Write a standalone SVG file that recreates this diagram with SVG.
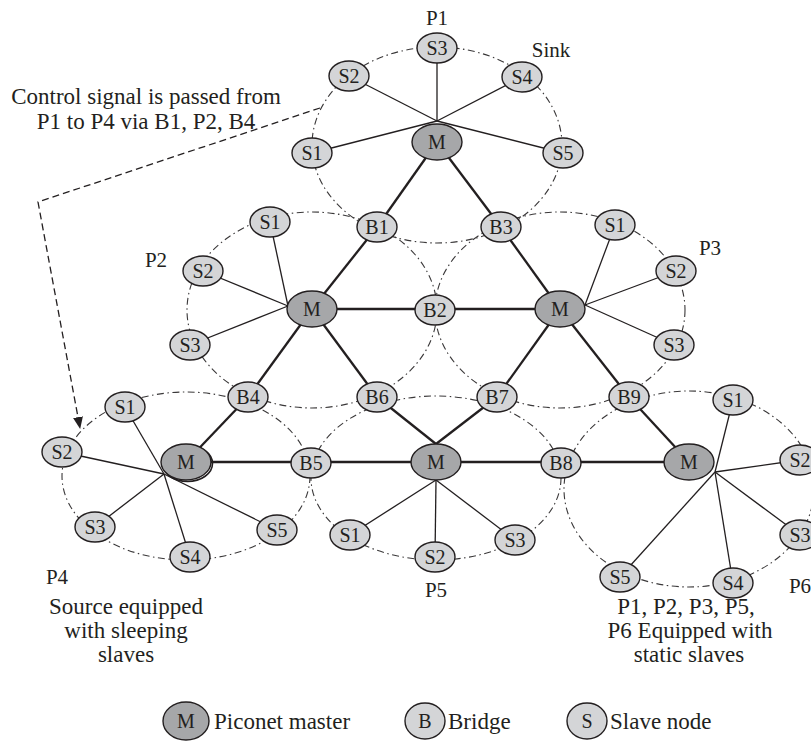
<svg xmlns="http://www.w3.org/2000/svg" width="811" height="748" viewBox="0 0 811 748">
<style>
.loop{fill:none;stroke:#3a3839;stroke-width:1.1;stroke-dasharray:7 3.5 1.5 3.5}
.thick{stroke:#231f20;stroke-width:2.3;fill:none}
.thin{stroke:#231f20;stroke-width:1.3;fill:none}
.sl{fill:#d4d5d7;stroke:#231f20;stroke-width:1.4}
.ms{fill:#a6a7a9;stroke:#231f20;stroke-width:1.4}
.lbl{font-family:"Liberation Serif","Times New Roman",serif;font-size:20px;fill:#231f20;text-anchor:middle}
.txt{font-family:"Liberation Serif","Times New Roman",serif;font-size:23px;fill:#231f20}
.pl{font-family:"Liberation Serif","Times New Roman",serif;font-size:21px;fill:#231f20;text-anchor:middle}
.mid{text-anchor:middle}
.arr{fill:none;stroke:#231f20;stroke-width:1.3;stroke-dasharray:7 4}
</style>
<defs>
<marker id="ah" viewBox="0 0 12 10" refX="11" refY="5" markerWidth="12" markerHeight="10" markerUnits="userSpaceOnUse" orient="auto">
<path d="M0,0 L12,5 L0,10 Z" fill="#231f20"/>
</marker>
</defs>

<g id="loops">
<ellipse class="loop" cx="437" cy="145" rx="125" ry="98"/>
<ellipse class="loop" cx="312" cy="310" rx="125" ry="98"/>
<ellipse class="loop" cx="560" cy="310" rx="125" ry="98"/>
<ellipse class="loop" cx="186" cy="476" rx="124" ry="84"/>
<ellipse class="loop" cx="436" cy="478" rx="125" ry="82"/>
<ellipse class="loop" cx="689" cy="489" rx="125" ry="98"/>
</g>

<g id="connectors">
<line class="thick" x1="437" y1="142" x2="377" y2="227"/>
<line class="thick" x1="437" y1="142" x2="501" y2="227"/>
<line class="thick" x1="377" y1="227" x2="312" y2="309"/>
<line class="thick" x1="501" y1="227" x2="560" y2="309"/>
<line class="thick" x1="312" y1="309" x2="560" y2="309"/>
<line class="thick" x1="312" y1="309" x2="248" y2="397"/>
<line class="thick" x1="312" y1="309" x2="377" y2="397"/>
<line class="thick" x1="560" y1="309" x2="497" y2="397"/>
<line class="thick" x1="560" y1="309" x2="629" y2="397"/>
<line class="thick" x1="248" y1="397" x2="186" y2="462"/>
<line class="thick" x1="377" y1="397" x2="436" y2="444"/>
<line class="thick" x1="497" y1="397" x2="436" y2="444"/>
<line class="thick" x1="629" y1="397" x2="689" y2="462"/>
<line class="thick" x1="186" y1="462" x2="689" y2="462"/>
<line class="thin" x1="437" y1="121" x2="312" y2="153"/>
<line class="thin" x1="437" y1="121" x2="349" y2="76"/>
<line class="thin" x1="437" y1="121" x2="437" y2="48"/>
<line class="thin" x1="437" y1="121" x2="522" y2="77"/>
<line class="thin" x1="437" y1="121" x2="563" y2="153"/>
<line class="thin" x1="288" y1="306" x2="270" y2="222"/>
<line class="thin" x1="288" y1="306" x2="203" y2="271"/>
<line class="thin" x1="288" y1="306" x2="190" y2="345"/>
<line class="thin" x1="585" y1="305" x2="615" y2="225"/>
<line class="thin" x1="585" y1="305" x2="676" y2="271"/>
<line class="thin" x1="585" y1="305" x2="674" y2="345"/>
<line class="thin" x1="164" y1="474" x2="125" y2="407"/>
<line class="thin" x1="164" y1="474" x2="62" y2="452"/>
<line class="thin" x1="164" y1="474" x2="95" y2="527"/>
<line class="thin" x1="164" y1="474" x2="190" y2="557"/>
<line class="thin" x1="164" y1="474" x2="277" y2="530"/>
<line class="thin" x1="436" y1="480" x2="350" y2="535"/>
<line class="thin" x1="436" y1="480" x2="435" y2="557"/>
<line class="thin" x1="436" y1="480" x2="515" y2="540"/>
<line class="thin" x1="715" y1="472" x2="733" y2="400"/>
<line class="thin" x1="715" y1="472" x2="800" y2="460"/>
<line class="thin" x1="715" y1="472" x2="800" y2="535"/>
<line class="thin" x1="715" y1="472" x2="733" y2="583"/>
<line class="thin" x1="715" y1="472" x2="620" y2="577"/>
<polyline class="arr" points="320,108 38,202 80,428" marker-end="url(#ah)"/>
</g>

<g id="p1-m"><ellipse class="ms" cx="437" cy="142" rx="25" ry="18"/><text class="lbl" x="437" y="149">M</text></g>
<g id="p1-s1"><ellipse class="sl" cx="312" cy="153" rx="20" ry="15"/><text class="lbl" x="312" y="160">S1</text></g>
<g id="p1-s2"><ellipse class="sl" cx="349" cy="76" rx="20" ry="15"/><text class="lbl" x="349" y="83">S2</text></g>
<g id="p1-s3"><ellipse class="sl" cx="437" cy="48" rx="20" ry="15"/><text class="lbl" x="437" y="55">S3</text></g>
<g id="p1-s4"><ellipse class="sl" cx="522" cy="77" rx="20" ry="15"/><text class="lbl" x="522" y="84">S4</text></g>
<g id="p1-s5"><ellipse class="sl" cx="563" cy="153" rx="20" ry="15"/><text class="lbl" x="563" y="160">S5</text></g>
<g id="p2-m"><ellipse class="ms" cx="312" cy="309" rx="25" ry="18"/><text class="lbl" x="312" y="316">M</text></g>
<g id="p2-s1"><ellipse class="sl" cx="270" cy="222" rx="20" ry="15"/><text class="lbl" x="270" y="229">S1</text></g>
<g id="p2-s2"><ellipse class="sl" cx="203" cy="271" rx="20" ry="15"/><text class="lbl" x="203" y="278">S2</text></g>
<g id="p2-s3"><ellipse class="sl" cx="190" cy="345" rx="20" ry="15"/><text class="lbl" x="190" y="352">S3</text></g>
<g id="p3-m"><ellipse class="ms" cx="560" cy="309" rx="25" ry="18"/><text class="lbl" x="560" y="316">M</text></g>
<g id="p3-s1"><ellipse class="sl" cx="615" cy="225" rx="20" ry="15"/><text class="lbl" x="615" y="232">S1</text></g>
<g id="p3-s2"><ellipse class="sl" cx="676" cy="271" rx="20" ry="15"/><text class="lbl" x="676" y="278">S2</text></g>
<g id="p3-s3"><ellipse class="sl" cx="674" cy="345" rx="20" ry="15"/><text class="lbl" x="674" y="352">S3</text></g>
<g id="p4-m"><ellipse cx="187.5" cy="463.5" rx="25" ry="18" fill="none" stroke="#231f20" stroke-width="1.6"/><ellipse class="ms" cx="186" cy="462" rx="25" ry="18"/><text class="lbl" x="186" y="469">M</text></g>
<g id="p4-s1"><ellipse class="sl" cx="125" cy="407" rx="20" ry="15"/><text class="lbl" x="125" y="414">S1</text></g>
<g id="p4-s2"><ellipse class="sl" cx="62" cy="452" rx="20" ry="15"/><text class="lbl" x="62" y="459">S2</text></g>
<g id="p4-s3"><ellipse class="sl" cx="95" cy="527" rx="20" ry="15"/><text class="lbl" x="95" y="534">S3</text></g>
<g id="p4-s4"><ellipse class="sl" cx="190" cy="557" rx="20" ry="15"/><text class="lbl" x="190" y="564">S4</text></g>
<g id="p4-s5"><ellipse class="sl" cx="277" cy="530" rx="20" ry="15"/><text class="lbl" x="277" y="537">S5</text></g>
<g id="p5-m"><ellipse class="ms" cx="436" cy="462" rx="25" ry="18"/><text class="lbl" x="436" y="469">M</text></g>
<g id="p5-s1"><ellipse class="sl" cx="350" cy="535" rx="20" ry="15"/><text class="lbl" x="350" y="542">S1</text></g>
<g id="p5-s2"><ellipse class="sl" cx="435" cy="557" rx="20" ry="15"/><text class="lbl" x="435" y="564">S2</text></g>
<g id="p5-s3"><ellipse class="sl" cx="515" cy="540" rx="20" ry="15"/><text class="lbl" x="515" y="547">S3</text></g>
<g id="p6-m"><ellipse class="ms" cx="689" cy="462" rx="25" ry="18"/><text class="lbl" x="689" y="469">M</text></g>
<g id="p6-s1"><ellipse class="sl" cx="733" cy="400" rx="20" ry="15"/><text class="lbl" x="733" y="407">S1</text></g>
<g id="p6-s2"><ellipse class="sl" cx="800" cy="460" rx="20" ry="15"/><text class="lbl" x="800" y="467">S2</text></g>
<g id="p6-s3"><ellipse class="sl" cx="800" cy="535" rx="20" ry="15"/><text class="lbl" x="800" y="542">S3</text></g>
<g id="p6-s4"><ellipse class="sl" cx="733" cy="583" rx="20" ry="15"/><text class="lbl" x="733" y="590">S4</text></g>
<g id="p6-s5"><ellipse class="sl" cx="620" cy="577" rx="20" ry="15"/><text class="lbl" x="620" y="584">S5</text></g>
<g id="b1"><ellipse class="sl" cx="377" cy="227" rx="20" ry="15"/><text class="lbl" x="377" y="234">B1</text></g>
<g id="b2"><ellipse class="sl" cx="435" cy="310" rx="20" ry="15"/><text class="lbl" x="435" y="317">B2</text></g>
<g id="b3"><ellipse class="sl" cx="501" cy="227" rx="20" ry="15"/><text class="lbl" x="501" y="234">B3</text></g>
<g id="b4"><ellipse class="sl" cx="248" cy="397" rx="20" ry="15"/><text class="lbl" x="248" y="404">B4</text></g>
<g id="b5"><ellipse class="sl" cx="311" cy="463" rx="20" ry="15"/><text class="lbl" x="311" y="470">B5</text></g>
<g id="b6"><ellipse class="sl" cx="377" cy="397" rx="20" ry="15"/><text class="lbl" x="377" y="404">B6</text></g>
<g id="b7"><ellipse class="sl" cx="497" cy="397" rx="20" ry="15"/><text class="lbl" x="497" y="404">B7</text></g>
<g id="b8"><ellipse class="sl" cx="561" cy="463" rx="20" ry="15"/><text class="lbl" x="561" y="470">B8</text></g>
<g id="b9"><ellipse class="sl" cx="629" cy="397" rx="20" ry="15"/><text class="lbl" x="629" y="404">B9</text></g>

<g id="labels">
<text class="pl" x="437" y="25">P1</text>
<text class="pl" x="551" y="57">Sink</text>
<text class="pl" x="156" y="267">P2</text>
<text class="pl" x="710" y="255">P3</text>
<text class="pl" x="57" y="584">P4</text>
<text class="pl" x="436" y="597">P5</text>
<text class="pl" x="800" y="593">P6</text>
<text class="txt mid" x="146" y="104">Control signal is passed from</text>
<text class="txt mid" x="146" y="129">P1 to P4 via B1, P2, B4</text>
<text class="txt mid" x="126" y="614">Source equipped</text>
<text class="txt mid" x="126" y="638">with sleeping</text>
<text class="txt mid" x="126" y="662">slaves</text>
<text class="txt mid" x="686" y="614">P1, P2, P3, P5,</text>
<text class="txt mid" x="690" y="638">P6 Equipped with</text>
<text class="txt mid" x="689" y="662">static slaves</text>
</g>

<g id="legend">
<g id="legend-m"><ellipse class="ms" cx="186" cy="721" rx="23" ry="19"/><text class="lbl" x="186" y="728">M</text><text class="txt" x="214" y="729">Piconet master</text></g>
<g id="legend-b"><ellipse class="sl" cx="425" cy="721" rx="20" ry="18"/><text class="lbl" x="425" y="728">B</text><text class="txt" x="448" y="729">Bridge</text></g>
<g id="legend-s"><ellipse class="sl" cx="587" cy="721" rx="20" ry="18"/><text class="lbl" x="587" y="728">S</text><text class="txt" x="610" y="729">Slave node</text></g>
</g>
</svg>
